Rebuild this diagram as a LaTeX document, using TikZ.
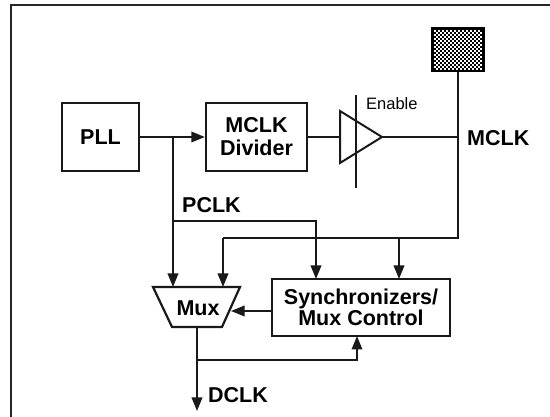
\documentclass[tikz,border=0pt]{standalone}
\usepackage{fontspec}
\setmainfont{Liberation Sans}
\usetikzlibrary{arrows.meta}
\tikzset{
  x=1pt,y=-1pt,
  wire/.style={line width=1.9pt,black!90},
  arr/.style={wire,-{Triangle[length=13.5pt,width=10.5pt]}},
  blockbox/.style={draw=black!90,line width=2.3pt,fill=white,align=center,inner sep=0pt,font=\bfseries\fontsize{21.5}{23}\selectfont},
  lab/.style={inner sep=0pt,anchor=west,font=\bfseries\fontsize{21.5}{24}\selectfont},
}
\begin{document}
\begin{tikzpicture}
\useasboundingbox (0,0) rectangle (550,417);
\draw[line width=1.2pt,black!85] (11,417) -- (11,5) -- (550,5);
\node[blockbox,minimum width=77pt,minimum height=68pt] (pll) at (100.5,137) {PLL};
\node[blockbox,minimum width=101pt,minimum height=68pt] (div) at (256.5,137) {MCLK\\Divider};
\node[blockbox,minimum width=178pt,minimum height=57pt,font=\bfseries\fontsize{21.5}{21.5}\selectfont] (sync) at (361,307.5) {Synchronizers/\\Mux Control};
\node[draw=black,line width=1.5pt,fill=black,minimum width=52pt,minimum height=43pt,inner sep=0pt] (pad) at (458,49.5) {};
\foreach \i in {0,...,11}{\foreach \j in {0,...,19}{
  \pgfmathtruncatemacro{\pa}{mod(\j,2)}
  \fill[white] (434+4*\i+2*\pa,30+2*\j) rectangle +(1.9,1.9);
}}
\coordinate (t1) at (340,111); \coordinate (t2) at (340,163); \coordinate (t3) at (382,137);
\draw[wire,line width=2pt,line join=miter] (t1) -- (t3) -- (t2) -- cycle;
\coordinate (en1) at (356,95); \coordinate (en2) at (356,188);
\draw[wire] (en1) -- (en2);
\coordinate (m1) at (153,287); \coordinate (m2) at (240,287); \coordinate (m3) at (222,327); \coordinate (m4) at (172,327);
\draw[wire,line width=2.2pt] (m1) -- (m2) -- (m3) -- (m4) -- cycle;
\node[font=\bfseries\fontsize{21.5}{24}\selectfont,inner sep=0pt] (mux) at (198,308) {Mux};
\node[inner sep=0pt,anchor=west,font=\fontsize{16.5}{19}\selectfont] (enable) at (366,104) {Enable};
\node[lab] (mclk) at (467,138) {MCLK};
\node[lab] (pclk) at (182,205) {PCLK};
\node[lab] (dclk) at (208,395) {DCLK};
\coordinate (j1) at (173,137); \coordinate (j2) at (173,221); \coordinate (j3) at (316,221);
\coordinate (j4) at (458,137); \coordinate (j5) at (458,238); \coordinate (j6) at (399,238); \coordinate (j7) at (223,238);
\coordinate (j8) at (197,360); \coordinate (j9) at (357,360); \coordinate (j10) at (197,411);
\draw[arr] (pll.east |- j1) -- (div.west |- j1);
\draw[arr] (j1) -- (173,287);
\draw[arr] (j2) -- (j3) -- (316,279);
\draw[wire] (div.east |- j1) -- (t1 |- j1);
\draw[wire] (t3) -- (j4);
\draw[wire] (pad.south) -- (j5) -- (j7);
\draw[arr] (j7) -- (223,287);
\draw[arr] (j6) -- (399,279);
\draw[arr] (sync.west |- 0,311) -- (231,311);
\draw[arr] (197,327) -- (j10);
\draw[arr] (j8) -- (j9) -- (357,336);
\end{tikzpicture}
\end{document}
